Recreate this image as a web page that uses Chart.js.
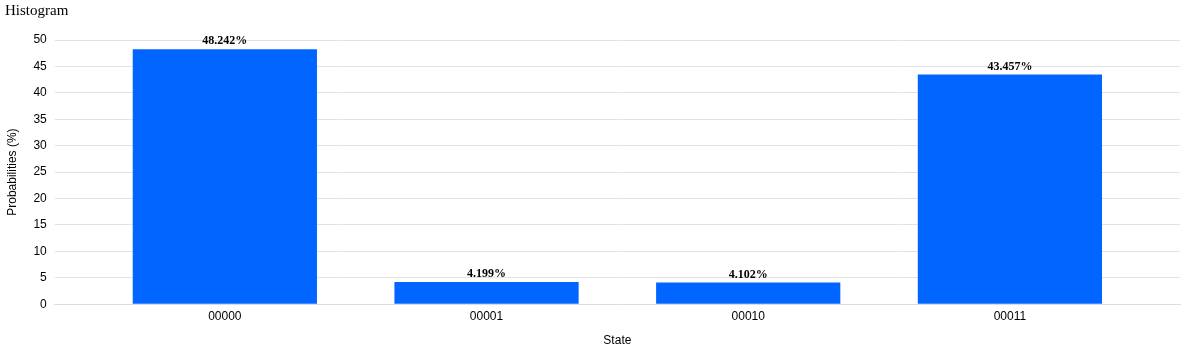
<!DOCTYPE html>
<html>
<head>
<meta charset="utf-8">
<script src="https://cdn.jsdelivr.net/npm/chart.js@4/dist/chart.umd.min.js"></script>
<style>
  html, body { margin: 0; padding: 0; background: #fff; }
  #wrap { width: 1200px; height: 350px; }
</style>
</head>
<body>
<div id="wrap"><canvas id="histogram"></canvas></div>
<script>
const states = ['00000', '00001', '00010', '00011'];
const probabilities = [48.242, 4.199, 4.102, 43.457];
const yTicks = [0, 5, 10, 15, 20, 25, 30, 35, 40, 45, 50];

// labels above each bar, drawn from the bar elements
const valueLabels = {
    id: 'valueLabels',
    afterDatasetsDraw(chart) {
        const ctx = chart.ctx;
        const meta = chart.getDatasetMeta(0);
        ctx.save();
        ctx.font = 'bold 12px "Liberation Serif", "Times New Roman", serif';
        ctx.fillStyle = '#000';
        ctx.textAlign = 'center';
        ctx.textBaseline = 'bottom';
        meta.data.forEach((bar, i) => {
            ctx.fillText(probabilities[i].toFixed(3) + '%', bar.x, bar.y - 2);
        });
        ctx.restore();
    }
};

new Chart(document.getElementById('histogram'), {
    type: 'bar',
    data: {
        datasets: [{
            data: probabilities.map((v, i) => ({ x: i, y: v })),
            backgroundColor: '#0066ff',
            borderWidth: 0,
            barPercentage: 0.704,
            categoryPercentage: 1
        }]
    },
    options: {
        responsive: true,
        maintainAspectRatio: false,
        animation: false,
        layout: { padding: { left: 5, right: 20, top: 0, bottom: 0 } },
        plugins: {
            legend: { display: false },
            tooltip: { enabled: false },
            title: {
                display: true,
                text: 'Histogram',
                align: 'start',
                color: '#000',
                font: { family: '"Liberation Serif", "Times New Roman", serif', size: 15, weight: 'normal' },
                padding: { top: 2, bottom: 20 }
            }
        },
        scales: {
            x: {
                type: 'linear',
                offset: false,
                min: -0.65,
                max: states.length - 1 + 0.65,
                afterBuildTicks: s => { s.ticks = states.map((_, i) => ({ value: i })); },
                grid: { display: false, offset: false },
                border: { color: '#dddddd' },
                ticks: {
                    color: '#000',
                    padding: -3,
                    font: { family: 'Liberation Sans, Arial, sans-serif', size: 12 },
                    callback: v => states[v] ?? ''
                },
                title: {
                    display: true,
                    text: 'State',
                    color: '#000',
                    font: { family: 'Liberation Sans, Arial, sans-serif', size: 12 },
                    padding: { top: 13, bottom: 2 }
                }
            },
            y: {
                min: 0,
                max: 50,
                afterBuildTicks: s => { s.ticks = yTicks.map(v => ({ value: v })); },
                grid: { color: '#e3e3e3', drawTicks: false },
                border: { display: false },
                ticks: {
                    color: '#000',
                    padding: 8,
                    font: { family: 'Liberation Sans, Arial, sans-serif', size: 12 }
                },
                title: {
                    display: true,
                    text: 'Probabilities (%)',
                    color: '#000',
                    font: { family: 'Liberation Sans, Arial, sans-serif', size: 12 },
                    padding: { top: 0, bottom: 6 }
                }
            }
        }
    },
    plugins: [valueLabels]
});
</script>
</body>
</html>
